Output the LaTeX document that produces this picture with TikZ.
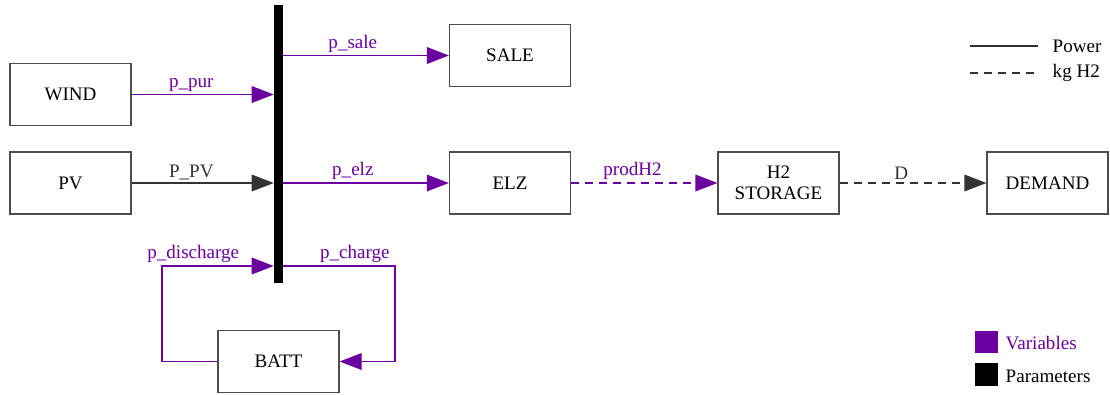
\documentclass[tikz,border=0pt]{standalone}
\usepackage{fontspec}
\setmainfont{Liberation Serif}
\usetikzlibrary{arrows.meta}
\definecolor{varcol}{RGB}{106,0,160}
\tikzset{
  block/.style={draw=black!70, line width=0.9pt, minimum width=90.75pt, minimum height=46.5pt, inner sep=0pt, align=center},
  var/.style={varcol, line width=0.9pt},
  par/.style={black!80, line width=0.9pt},
  h2line/.style={dash pattern=on 6pt off 4.5pt},
  lab/.style={above, pos=0.42, inner sep=2pt},
}

\begin{document}
\begin{tikzpicture}[x=0.75pt, y=-0.75pt, >={Triangle[length=16.5pt,width=12.5pt]}, font=\fontsize{14.3}{16}\selectfont]
    \useasboundingbox (0,0) rectangle (1110,394);

    \node[fill=black, minimum width=6.75pt, minimum height=208.5pt, inner sep=0pt] (bus) at (278.5,144) {};

    \node[block] (wind) at (70.5,94.5) {WIND};
    \node[block] (pv) at (70.5,183) {PV};
    \node[block] (sale) at (510,55.5) {SALE};
    \node[block] (elz) at (510,183) {ELZ};
    \node[block] (stor) at (778.5,183) {H2\\STORAGE};
    \node[block] (dem) at (1047.5,183) {DEMAND};
    \node[block] (batt) at (278.5,361.5) {BATT};

    \coordinate (dis) at (162,266);
    \coordinate (chg) at (395,266);

    \draw[var,->] (wind) -- (wind -| bus.west) node[lab] {p\_pur};
    \draw[par,->] (pv) -- (pv -| bus.west) node[lab] {P\_PV};
    \draw[var,->] (sale -| bus.east) -- (sale) node[lab] {p\_sale};
    \draw[var,->] (elz -| bus.east) -- (elz) node[lab] {p\_elz};
    \draw[var,h2line,->] (elz) -- (stor) node[lab] {prodH2};
    \draw[par,h2line,->] (stor) -- (dem) node[lab] {D};
    \draw[var,->] (batt.west) -| (dis) -- (dis -| bus.west) node[lab, pos=0.28] {p\_discharge};
    \draw[var,->] (chg -| bus.east) -- (chg) node[lab, pos=0.64] {p\_charge} |- (batt.east);

    % legend
    \coordinate (pw1) at (970,46);
    \coordinate (pw2) at (1038,46);
    \coordinate (kg1) at (970,73);
    \coordinate (kg2) at (1038,73);
    \draw[par] (pw1) -- (pw2);
    \draw[par,h2line] (kg1) -- (kg2);
    \node[anchor=west] (pwtxt) at (1048,46) {Power};
    \node[anchor=west] (kgtxt) at (1048,73) {kg H2};

    \node[fill=varcol, minimum size=17pt, inner sep=0pt] (varsq) at (986.5,342) {};
    \node[fill=black, minimum size=17pt, inner sep=0pt] (parsq) at (986.5,374.5) {};
    \node[anchor=west, varcol] (vartxt) at (1001,343) {Variables};
    \node[anchor=west] (partxt) at (1001,376) {Parameters};
\end{tikzpicture}
\end{document}
